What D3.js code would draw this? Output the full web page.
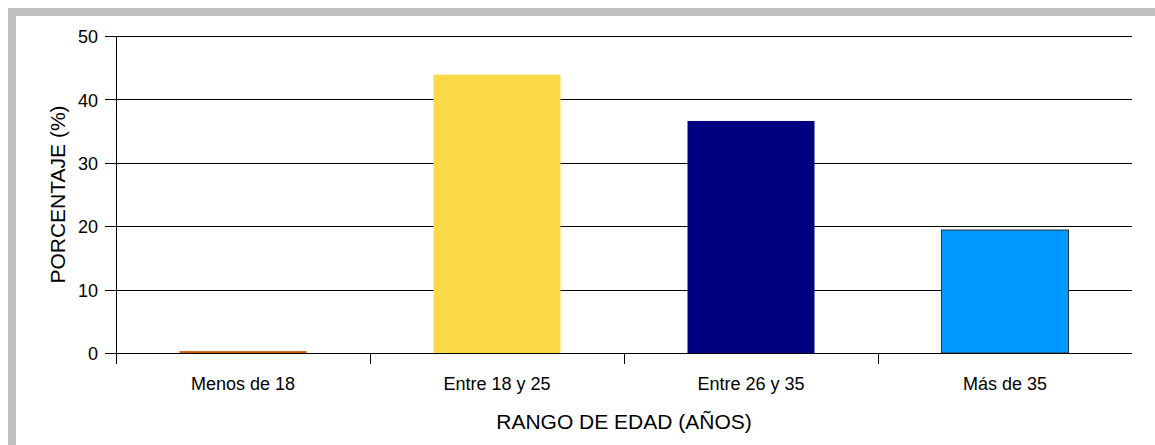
<!DOCTYPE html>
<html>
<head>
<meta charset="utf-8">
<script src="https://cdn.jsdelivr.net/npm/d3@7"></script>
<style>
    body { margin: 0; background: #fff; }
    svg { display: block; font-family: "Liberation Sans", Arial, sans-serif; }
</style>
</head>
<body>
<div id="chart"></div>
<script>
// Data
const categories = ['Menos de 18', 'Entre 18 y 25', 'Entre 26 y 35', 'Más de 35'];
const values = [0.3, 43.9, 36.6, 19.4];
const barColors = ['#CC5C00', '#FDD848', '#000080', '#0099FF'];
const yTicks = [0, 10, 20, 30, 40, 50];

function initChart() {
    const W = 1155, H = 445;
    const margin = { top: 36, right: 23, bottom: 92, left: 116 },
        width = W - margin.left - margin.right,
        height = H - margin.top - margin.bottom;

    const root = d3.select("#chart")
        .append("svg")
        .attr("width", W)
        .attr("height", H);

    // grey frame on top and left
    root.append("rect")
        .attr("x", 8).attr("y", 8)
        .attr("width", W - 8).attr("height", 8)
        .attr("fill", "#C0C0C0");
    root.append("rect")
        .attr("x", 8).attr("y", 8)
        .attr("width", 8).attr("height", H - 8)
        .attr("fill", "#C0C0C0");

    const svg = root.append("g")
        .attr("transform", "translate(" + margin.left + "," + margin.top + ")");

    const xScale = d3.scaleBand()
        .domain(categories)
        .range([0, width])
        .paddingInner(0.5)
        .paddingOuter(0.25);

    const yScale = d3.scaleLinear()
        .domain([0, 50])
        .range([height, 0]);

    // gridlines + y ticks
    svg.selectAll(".grid")
        .data(yTicks)
        .enter()
        .append("line")
        .attr("x1", -11)
        .attr("x2", width)
        .attr("y1", d => Math.round(yScale(d)) + 0.5)
        .attr("y2", d => Math.round(yScale(d)) + 0.5)
        .attr("stroke", "#000")
        .attr("stroke-width", 1);

    svg.selectAll(".ylab")
        .data(yTicks)
        .enter()
        .append("text")
        .attr("x", -18)
        .attr("y", d => yScale(d))
        .attr("dy", "0.4em")
        .attr("text-anchor", "end")
        .style("font-size", "18px")
        .attr("fill", "#000")
        .text(d => d);

    // bars
    svg.selectAll(".bar")
        .data(values)
        .enter()
        .append("rect")
        .attr("x", (d, i) => xScale(categories[i]))
        .attr("y", d => yScale(d))
        .attr("width", xScale.bandwidth())
        .attr("height", d => yScale(0) - yScale(d))
        .attr("fill", (d, i) => barColors[i])
        .attr("stroke", (d, i) => i === 3 ? "#333" : "none")
        .attr("stroke-width", 1);

    // x axis baseline
    const y0 = Math.round(yScale(0)) + 0.5;
    svg.append("line")
        .attr("x1", 0).attr("x2", width)
        .attr("y1", y0).attr("y2", y0)
        .attr("stroke", "#000");

    // y axis line
    svg.append("line")
        .attr("x1", 0.5).attr("x2", 0.5)
        .attr("y1", 0).attr("y2", height + 11)
        .attr("stroke", "#000");

    // category ticks at band boundaries
    const half = (xScale.step() - xScale.bandwidth()) / 2;
    svg.selectAll(".xtick")
        .data(categories.slice(1))
        .enter()
        .append("line")
        .attr("x1", d => Math.round(xScale(d) - half) + 0.5)
        .attr("x2", d => Math.round(xScale(d) - half) + 0.5)
        .attr("y1", height)
        .attr("y2", height + 11)
        .attr("stroke", "#000");

    svg.selectAll(".xlab")
        .data(categories)
        .enter()
        .append("text")
        .attr("x", d => xScale(d) + xScale.bandwidth() / 2)
        .attr("y", height + 37)
        .attr("text-anchor", "middle")
        .style("font-size", "18px")
        .attr("fill", "#000")
        .text(d => d);

    // axis titles
    svg.append("text")
        .attr("x", width / 2)
        .attr("y", height + 76)
        .attr("text-anchor", "middle")
        .style("font-size", "21px")
        .attr("fill", "#000")
        .text("RANGO DE EDAD (AÑOS)");

    svg.append("text")
        .attr("transform", "rotate(-90)")
        .attr("x", -height / 2)
        .attr("y", -51)
        .attr("text-anchor", "middle")
        .style("font-size", "21px")
        .attr("fill", "#000")
        .text("PORCENTAJE (%)");
}
window.onload = initChart;
</script>
</body>
</html>
